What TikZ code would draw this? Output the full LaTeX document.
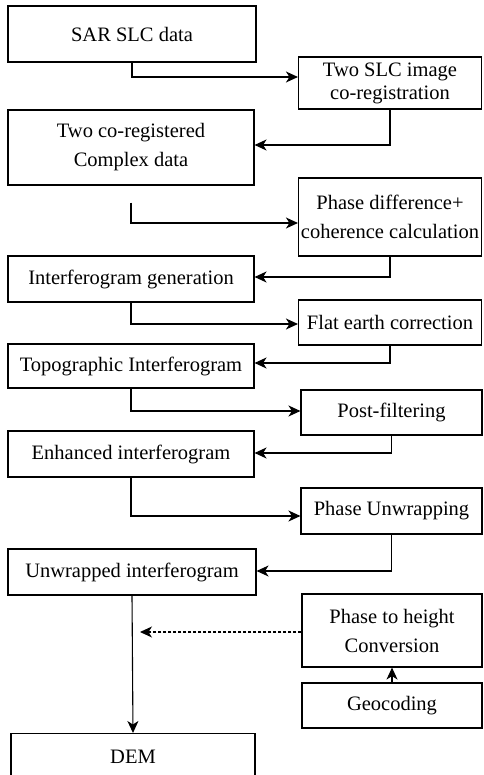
\documentclass[tikz,border=0pt]{standalone}
\usepackage{fontspec}
\setmainfont{Liberation Serif}
\usepackage{tikz}
\usetikzlibrary{arrows.meta, positioning}

\begin{document}
\begin{tikzpicture}[
			x=1pt, y=-1pt,
			every node/.style={draw, line width=1.1pt, rectangle, inner sep=0pt, align=center, font=\fontsize{20.5}{29}\selectfont},
			leftbox/.style={minimum width=246pt},
			rightbox/.style={minimum width=183pt},
			flow/.style={draw, line width=1.1pt, -{Stealth[length=12pt, width=11pt, inset=3.5pt]}},
			link/.style={draw, line width=1.1pt, dash pattern=on 3pt off 2pt, -{Stealth[length=12pt, width=11pt, inset=3.5pt]}}
			]
			\useasboundingbox (0,0) rectangle (483,775);
			
			% Nodes of the chart
			\node[leftbox, minimum width=248pt, minimum height=56pt] (sar) at (132,34) {SAR SLC data};
			\node[rightbox, minimum height=52pt] (coreg) at (390,83) {Two SLC image\\[-6pt]co-registration};
			\node[leftbox, minimum height=75pt] (cplx) at (131,147.5) {Two co-registered\\Complex data};
			\node[rightbox, minimum height=78pt] (phdiff) at (390,217) {Phase difference+\\coherence calculation};
			\node[leftbox, minimum height=46pt] (ifg) at (131,279) {Interferogram generation};
			\node[rightbox, minimum height=45pt] (flat) at (390,322.5) {Flat earth correction};
			\node[leftbox, minimum height=44pt] (topo) at (131,366) {Topographic Interferogram};
			\node[rightbox, minimum width=181pt, minimum height=45pt] (post) at (391.5,412.5) {Post-filtering};
			\node[leftbox, minimum height=46pt] (enh) at (131,454) {Enhanced interferogram};
			\node[rightbox, minimum width=181pt, minimum height=46pt] (unwr) at (391.5,511) {Phase Unwrapping};
			\node[leftbox, minimum width=248pt, minimum height=46pt] (uifg) at (132,572) {Unwrapped interferogram};
			\node[rightbox, minimum width=180pt, minimum height=73pt] (ptoh) at (392,630.5) {Phase to height\\Conversion};
			\node[rightbox, minimum width=180pt, minimum height=45pt] (geo) at (392,705.5) {Geocoding};
			\node[leftbox, minimum width=244pt, minimum height=46pt, anchor=north] (dem) at (133,733) {DEM};
			
			\coordinate (merge) at (140,632);
			
			% Connectors
			\draw[flow] (sar.south) |- (coreg.west |- 0,77);
			\draw[flow] (coreg.south) |- (cplx.east |- 0,145);
			\draw[flow] ([yshift=-17pt]cplx.south) |- (phdiff.west |- 0,223);
			\draw[flow] (phdiff.south) |- (ifg.east |- 0,277);
			\draw[flow] (ifg.south) |- (flat.west |- 0,324);
			\draw[flow] (flat.south) |- (topo.east |- 0,363);
			\draw[flow] (topo.south) |- (post.west |- 0,411);
			\draw[flow] (post.south) |- (enh.east |- 0,453);
			\draw[flow] (enh.south) |- (unwr.west |- 0,516);
			\draw[flow] (unwr.south) |- (uifg.east |- 0,571);
			\draw[flow] (uifg.south) -- (dem.north);
			\draw[link] (ptoh.west |- merge) -- (merge);
			\draw[flow] (geo.north) -- (ptoh.south);
			
		\end{tikzpicture}
\end{document}
